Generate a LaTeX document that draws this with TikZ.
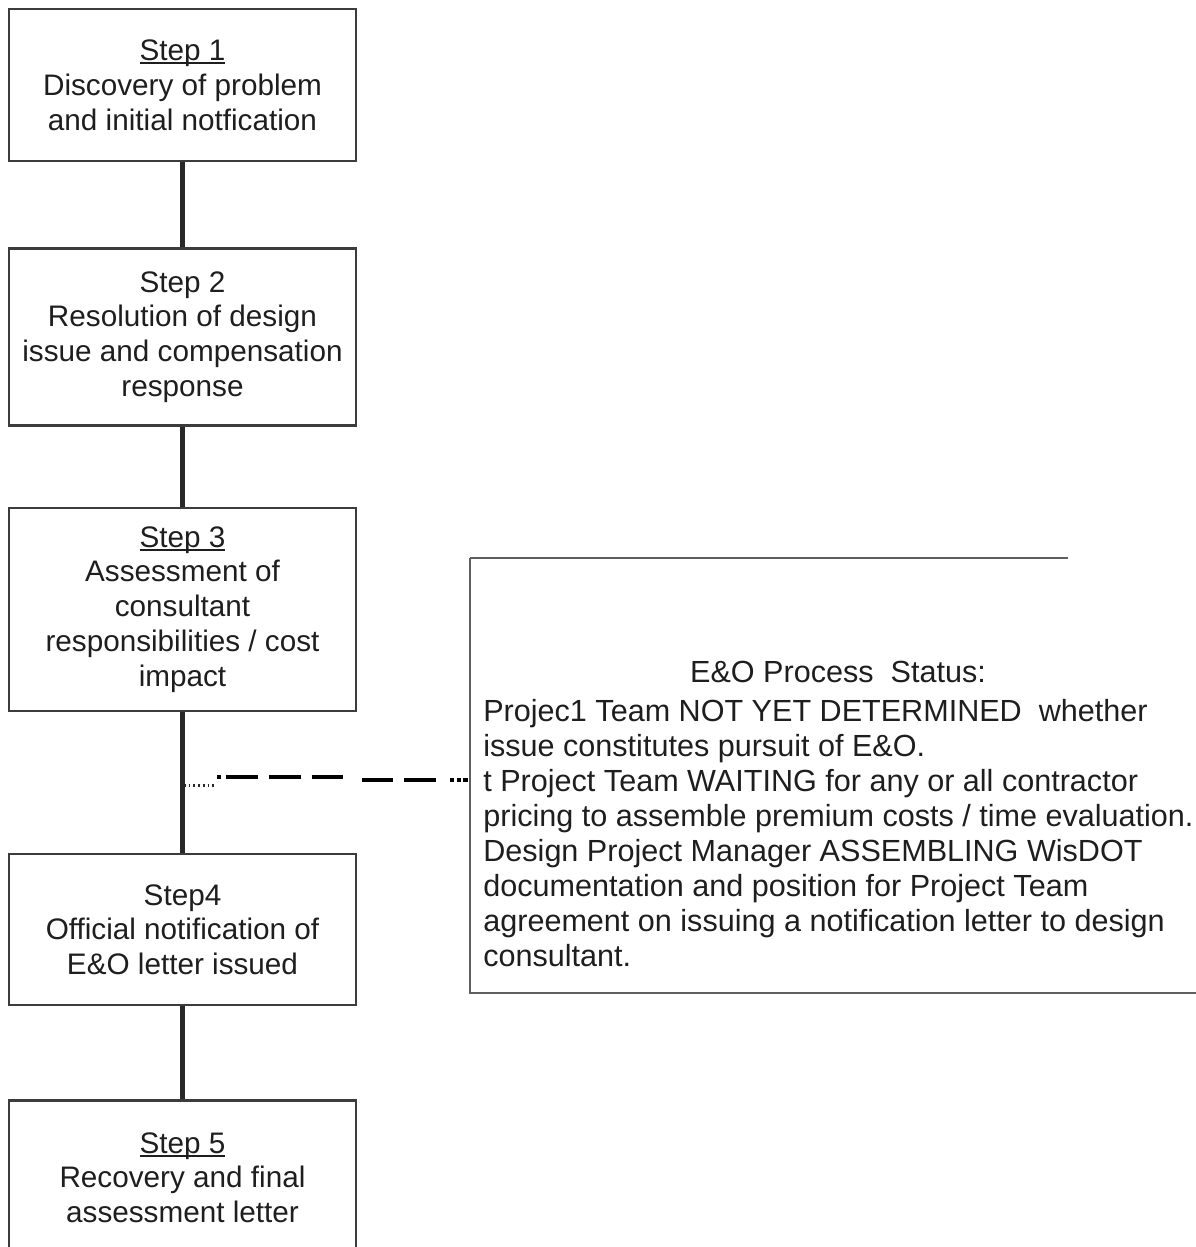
\documentclass[tikz,border=0pt]{standalone}
\usepackage{fontspec}
\setmainfont{Liberation Sans}
\usetikzlibrary{positioning}
\definecolor{eoBoxGray}{RGB}{60,60,60}
\definecolor{eoLinkDark}{RGB}{40,40,40}
\definecolor{eoPanelGray}{RGB}{95,95,95}
\definecolor{eoText}{RGB}{30,30,30}
\newcommand{\stepul}[1]{\setbox0\hbox{#1}\rlap{\rule[-2.2pt]{\wd0}{1.3pt}}\box0}

\begin{document}
\begin{tikzpicture}[
  x=0.02cm, y=-0.02cm,
  every node/.style={font=\fontsize{16.9}{19.8}\selectfont, text=eoText},
  stepbox/.style={
    draw=eoBoxGray,
    line width=1.4pt,
    minimum width=6.94cm,
    align=center
  },
  link/.style={line width=2.3pt,eoLinkDark},
  panel/.style={line width=1.2pt,eoPanelGray},
  dotlink/.style={line width=1.7pt,eoLinkDark,dash pattern=on 0.9pt off 1.8pt},
  dashlink/.style={line width=1.8pt,black}
]
  \clip (0,0) rectangle (1196,1247);

  % the five steps
  \node[stepbox,minimum height=3.04cm] (s1) at (182.5,85)
    {\stepul{Step 1}\\Discovery of problem\\and initial notfication};
  \node[stepbox,minimum height=3.54cm,below=1.70cm of s1] (s2)
    {Step 2\\Resolution of design\\issue and compensation\\response};
  \node[stepbox,minimum height=4.06cm,below=1.60cm of s2] (s3)
    {\stepul{Step 3}\\Assessment of\\consultant\\responsibilities / cost\\impact};
  \node[stepbox,minimum height=3.02cm,below=2.82cm of s3] (s4)
    {Step4\\Official notification of\\E\&O letter issued};
  \node[stepbox,minimum height=3.08cm,below=1.86cm of s4] (s5)
    {\stepul{Step 5}\\Recovery and final\\assessment letter};

  \draw[link] (s1) -- (s2);
  \draw[link] (s2) -- (s3);
  \draw[link] (s3) -- (s4);
  \draw[link] (s4) -- (s5);

  % status panel, open on the right
  \node[minimum width=14.52cm,minimum height=8.7cm,inner sep=0pt] (status) at (833,775.5) {};
  \draw[panel] (status.north west) -- ++(598,0);
  \draw[panel] (status.north west) -- (status.south west) -- (status.south east);

  \node[anchor=base,font=\fontsize{17.4}{19.9}\selectfont] (statustitle) at (838,682)
    {E\&O Process\ \ Status:};
  \node[anchor=north west,align=left,inner sep=0pt,font=\fontsize{17.4}{19.9}\selectfont]
    (statusbody) at (483,699)
    {Projec1 Team NOT YET DETERMINED\ \ whether\\
     issue constitutes pursuit of E\&O.\\
     t Project Team WAITING for any or all contractor\\
     pricing to assemble premium costs / time evaluation.\\
     Design Project Manager ASSEMBLING WisDOT\\
     documentation and position for Project Team\\
     agreement on issuing a notification letter to design\\
     consultant.};

  % dashed lead from step 3 line to the panel
  \coordinate (tap) at (184,785);
  \coordinate (tip) at (status.west |- 0,780);
  \draw[dotlink] (tap) -- ++(30,0) coordinate (d1);
  \draw[dashlink,dash pattern=on 2.3pt off 2.8pt on 18pt off 6.6pt on 18pt off 6.2pt on 18pt]
    ([shift={(3,-8)}]d1) -- ++(128,0);
  \draw[dashlink,dash pattern=on 18pt off 6.2pt on 18pt off 8pt on 2.6pt off 1.2pt on 2.6pt off 1.2pt on 2.6pt off 1.2pt on 2.6pt off 1.2pt]
    (tip) ++(-108,0) coordinate (d3) -- (tip);
\end{tikzpicture}
\end{document}
